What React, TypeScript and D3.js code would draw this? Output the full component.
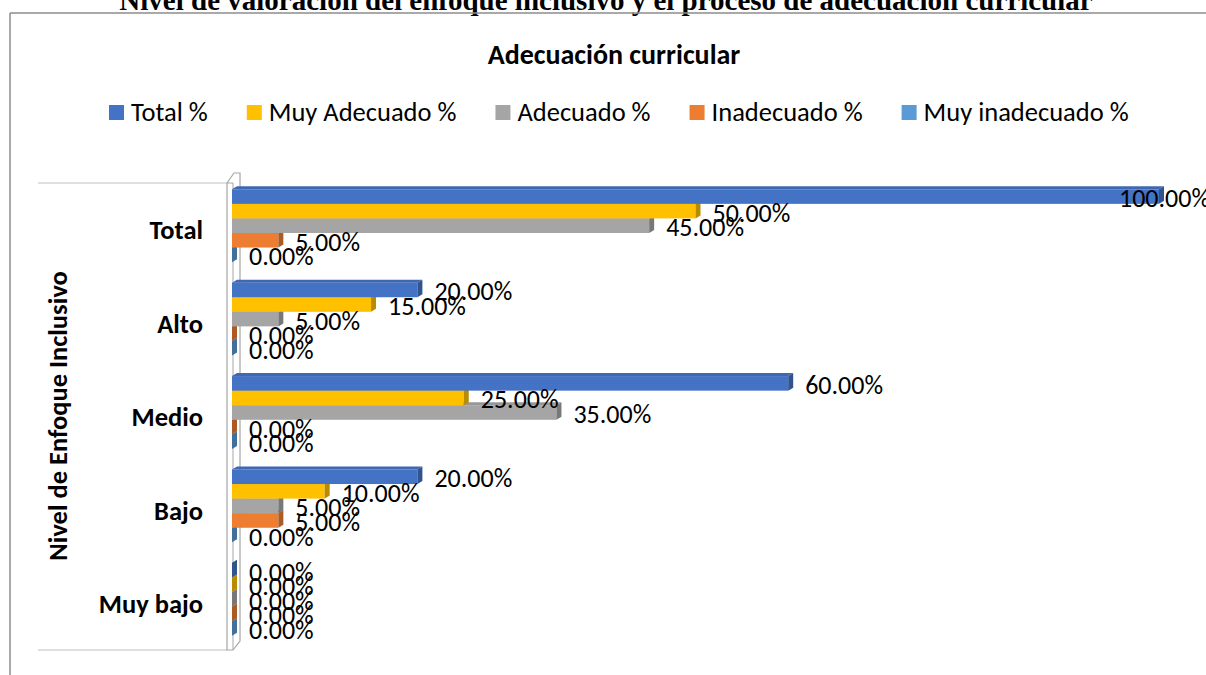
import { color, scaleBand, scaleLinear } from 'd3';

const categories = ['Total', 'Alto', 'Medio', 'Bajo', 'Muy bajo'];
const seriesNames = ['Total %', 'Muy Adecuado %', 'Adecuado %', 'Inadecuado %', 'Muy inadecuado %'];
const totalPct = [100, 20, 60, 20, 0];
const muyAdecuadoPct = [50, 15, 25, 10, 0];
const adecuadoPct = [45, 5, 35, 5, 0];
const inadecuadoPct = [5, 0, 0, 5, 0];
const muyInadecuadoPct = [0, 0, 0, 0, 0];
const seriesColors = ['#4472c4', '#ffc000', '#a5a5a5', '#ed7d31', '#5b9bd5'];

const seriesValues = [totalPct, muyAdecuadoPct, adecuadoPct, inadecuadoPct, muyInadecuadoPct];

const W = 1206;
const H = 675;
const SANS = 'Carlito, Lato, sans-serif';

let ctx: CanvasRenderingContext2D | null = null;
const measure = (text: string, font: string) => {
  if (!ctx) ctx = document.createElement('canvas').getContext('2d');
  if (!ctx) return text.length * 10;
  ctx.font = font;
  return ctx.measureText(text).width;
};

const fmt = (v: number) => `${v.toFixed(2)}%`;

export default function App() {
  const x0 = 232;
  const scaleX = scaleLinear().domain([0, 100]).range([x0, 1159]);
  const scaleY = scaleBand().domain(categories).range([183, 650]);
  const groupH = scaleY.bandwidth() * 0.78;
  const groupOff = (scaleY.bandwidth() - groupH) / 2 - 4;
  const inner = scaleBand().domain(seriesNames).range([0, groupH]);
  const bh = inner.bandwidth();
  const dx = 5;
  const dy = 3;

  const labelSize = 26;
  const legendSize = 26.5;
  const labelFont = `${labelSize}px ${SANS}`;
  const legendFont = `${legendSize}px ${SANS}`;

  // legend layout
  let lx = 109;
  const legendItems = seriesNames.map((name, i) => {
    const item = { name, x: lx, color: seriesColors[i] };
    lx += 22 + measure(name, legendFont) + 39;
    return item;
  });

  const bars: JSX.Element[] = [];
  const labels: JSX.Element[] = [];
  categories.forEach((cat, ci) => {
    const gy = (scaleY(cat) ?? 0) + groupOff;
    // draw bottom bars first so the upper ones cover their top faces
    for (let si = seriesNames.length - 1; si >= 0; si--) {
      const v = seriesValues[si][ci];
      const y = gy + (inner(seriesNames[si]) ?? 0);
      const xe = scaleX(v);
      const c = seriesColors[si];
      const top = color(c)?.darker(0.25).toString() ?? c;
      const side = color(c)?.darker(0.9).toString() ?? c;
      bars.push(
        <g key={`b-${ci}-${si}`}>
          {v > 0 && <rect x={x0} y={y} width={xe - x0} height={bh} fill={c} />}
          <polygon
            points={`${x0},${y} ${x0 + dx},${y - dy} ${xe + dx},${y - dy} ${xe},${y}`}
            fill={top}
          />
          <polygon
            points={`${xe},${y} ${xe + dx},${y - dy} ${xe + dx},${y + bh - dy} ${xe},${y + bh}`}
            fill={side}
          />
        </g>
      );
      const txt = fmt(v);
      const tw = measure(txt, labelFont);
      let tx = xe + 17;
      if (tx + tw > W + 4) tx = W + 4 - tw;
      labels.push(
        <text key={`l-${ci}-${si}`} x={tx} y={y + bh / 2 + 10.5} fontSize={labelSize} fill="#000">
          {txt}
        </text>
      );
    }
  });

  return (
    <svg
      width={W}
      height={H}
      style={{ position: 'absolute', left: 0, top: 0, background: '#fff' }}
      fontFamily={SANS}
    >
      <text
        x={606}
        y={10}
        textAnchor="middle"
        fontFamily="'Liberation Serif', 'Times New Roman', serif"
        fontWeight="bold"
        fontSize={29}
      >
        Nivel de valoración del enfoque inclusivo y el proceso de adecuación curricular
      </text>
      <line x1={10} y1={13} x2={W} y2={13} stroke="#8c8c8c" strokeWidth={1.5} />
      <line x1={10} y1={13} x2={10} y2={H} stroke="#8c8c8c" strokeWidth={1.5} />

      <text x={614} y={64} textAnchor="middle" fontWeight="bold" fontSize={28}>
        Adecuación curricular
      </text>

      {legendItems.map((it) => (
        <g key={it.name}>
          <rect x={it.x} y={105} width={15} height={15} fill={it.color} />
          <text x={it.x + 22} y={121} fontSize={legendSize}>
            {it.name}
          </text>
        </g>
      ))}

      {/* category tick lines */}
      <line x1={38} y1={183} x2={227} y2={183} stroke="#bfbfbf" strokeWidth={1.2} />
      <line x1={38} y1={650} x2={227} y2={650} stroke="#bfbfbf" strokeWidth={1.2} />
      {/* 3D wall */}
      <polygon
        points="227,183 234,173 240,173 240,641 233,650 227,650"
        fill="#fff"
        stroke="#a6a6a6"
        strokeWidth={1.2}
      />
      <line x1={227} y1={183} x2={233} y2={183} stroke="#a6a6a6" strokeWidth={1} />
      <line x1={233} y1={183} x2={233} y2={650} stroke="#a6a6a6" strokeWidth={1} />

      {bars}
      {labels}

      {categories.map((cat) => (
        <text
          key={cat}
          x={203}
          y={(scaleY(cat) ?? 0) + scaleY.bandwidth() / 2 + 9.6}
          textAnchor="end"
          fontWeight="bold"
          fontSize={26.5}
        >
          {cat}
        </text>
      ))}

      <text
        transform="translate(67,416) rotate(-90)"
        textAnchor="middle"
        fontWeight="bold"
        fontSize={26.5}
      >
        Nivel de Enfoque Inclusivo
      </text>
    </svg>
  );
}
